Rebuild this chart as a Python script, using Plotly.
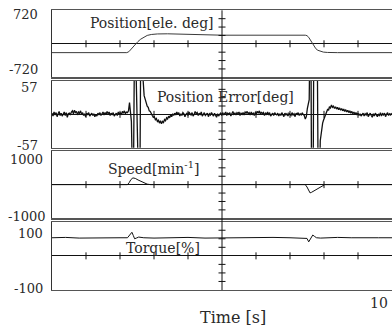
import numpy as np
import plotly.graph_objects as go

# ---------------- data ----------------
# Position [ele. deg]
pos_t = [0, 2.2, 2.26, 2.32, 2.39, 2.46, 2.53, 2.61, 2.70, 2.80, 2.92, 3.1, 3.4, 3.8, 4.3, 5.0,
         7.45, 7.50, 7.55, 7.60, 7.65, 7.70, 7.76, 7.82, 7.90, 7.98, 8.1, 8.4, 10]
pos_v = [-190, -190, -170, -120, -60, 0, 50, 100, 145, 180, 200, 212, 215, 205, 190, 185,
         185, 175, 140, 80, 10, -50, -105, -140, -165, -178, -186, -190, -190]

# Position error [deg] : noisy baseline segments sampled every 0.03 s
err_a_start = 0.0
err_a = [2, -3, 4, -1, 3, -4, 1, 5, -2, 2, -3, 0, 4, -2, 3, -5, 1, 2, -1, 4,
         6, 1, 7, 3, 5, -1, 4, 2, 6, 0, 3, -2, 1, -4, 2, -1, 3, -3, 0, 2,
         -2, 1, -4, 0, -3, 2, -1, 3, -2, 1, 4, -1, 3, 0, 5, 1, 4, -2, 2, -1,
         3, -3, 1, 2, -2, 4, 0, 3, -1, 5, 2, 6, 1, 4]
err_ev1_t = [2.22, 2.25, 2.28, 2.30, 2.32, 2.335, 2.37, 2.395, 2.425, 2.455, 2.545, 2.585, 2.61,
             2.635, 2.68, 2.71, 2.74, 2.77, 2.80, 2.83, 2.86, 2.89, 2.92, 2.95, 2.98, 3.01, 3.04,
             3.07, 3.10, 3.13, 3.16, 3.19, 3.22, 3.25, 3.28, 3.31, 3.34, 3.37, 3.40, 3.43, 3.46,
             3.49, 3.52, 3.55, 3.58]
err_ev1_v = [3, 6, 20, 8, 0, -12, -120, -120, 120, 120, -120, -120, 120,
             120, 45, 32, 26, 19, 14, 12, 6, 5, 0, -2, -5, -4, -9,
             -7, -12, -10, -15, -11, -16, -12, -14, -9, -11, -6, -8, -3, -6,
             -1, -4, 1, -2]
err_b_start = 3.61
err_b = [2, -1, 4, 0, 3, -3, 1, -2, 3, 1, -4, 0, 2, -2, 4, 1, -1, 3, -3, 0,
         5, 1, 3, -2, 2, -1, 4, -3, 1, 3, -2, 0, 2, -4, 1, -1, 3, 0, -3, 2,
         -2, -5, 1, -3, 0, 2, -2, 3, -1, 1, 4, -2, 2, 0, 3, -3, 1, 5, 0, 2,
         -1, 3, 1, 4, -2, 2, 0, 3, -1, 4, 2, 5, 1, 3, -1, 4, 0, 2, -2, 3,
         1, 5, 2, 6, 0, 4, 1, 3, -2, 2, 0, 4, -1, 3, -3, 1, 2, -2, 3, 0,
         -1, 2, -3, 1, -2, 3, 0, -4, 2, -1, 1, -3, 2, 0, -2, 3, -1, 1, -4, 2,
         0, 3, -2, 1, -1, 2, 0]
err_ev2_t = [7.42, 7.45, 7.48, 7.51, 7.54, 7.565, 7.585, 7.615, 7.635, 7.68, 7.70, 7.80, 7.83,
             7.865, 7.89, 7.91, 7.935, 7.96, 7.985, 8.01, 8.035, 8.06, 8.085, 8.11, 8.135, 8.16,
             8.19, 8.22, 8.25, 8.28, 8.31, 8.34, 8.37, 8.40, 8.43, 8.46, 8.49, 8.52, 8.55, 8.58,
             8.61, 8.64, 8.67, 8.70, 8.73, 8.76, 8.79, 8.82, 8.85, 8.88, 8.91, 8.94, 8.97, 9.00,
             9.03, 9.06, 9.09, 9.12]
err_ev2_v = [-2, -8, -4, 10, 16, 25, 130, 130, -130, -130, 130, 130, -130,
             -130, -45, -33, -22, -15, -10, -6, -2, 3, 5, 9, 7, 13,
             11, 16, 12, 14, 10, 13, 9, 12, 8, 11, 7, 10, 6, 9,
             5, 8, 4, 7, 3, 6, 2, 5, 1, 4, 0, 3, -1, 2,
             -2, 1, -3, 0]
err_c_start = 9.15
err_c = [2, -3, 1, -1, 3, -4, 0, 2, -2, -5, 1, -3, 2, -1, -4, 0, -2, 3, -3, 1,
         -1, 2, -4, 0, 3, -2, 1, -1, 2]
err_step = 0.03

# Speed [min^-1]
spd_t = [0, 2.22, 2.27, 2.32, 2.38, 2.45, 2.53, 2.62, 2.70, 2.80, 2.90,
         7.45, 7.50, 7.55, 7.59, 7.63, 7.70, 7.78, 7.86, 7.94, 8.02, 10]
spd_v = [0, 0, 60, 150, 200, 185, 140, 90, 50, 15, 0,
         0, -70, -190, -245, -230, -185, -140, -95, -50, 0, 0]

# Torque [%]
tq_t = [0, 0.4, 0.8, 1.2, 1.6, 2.0, 2.22, 2.27, 2.31, 2.35, 2.39, 2.43, 2.48, 2.55, 2.7,
        3.0, 3.5, 4.0, 4.5, 5.0, 5.5, 6.0, 6.5, 7.0, 7.3, 7.45, 7.5, 7.55, 7.6, 7.67, 7.72,
        7.78, 7.9, 8.1, 8.4, 8.8, 9.2, 9.6, 10]
tq_v = [53, 54, 52, 53, 54, 53, 53, 58, 64, 69, 60, 50, 52, 55, 53,
        52, 53, 54, 52, 53, 52, 53, 54, 53, 52, 53, 51, 41, 48, 61, 57,
        53, 52, 53, 54, 53, 52, 53, 53]

# panel ranges / labels
ranges = [720, 57, 1000, 100]
top_labels = ["720", "57", "1000", "100"]
bot_labels = ["-720", "-57", "-1000", "-100"]
panel_titles = ["Position[ele. deg]", "Position Error[deg]", "Speed[min<sup>-1</sup>]", "Torque[%]"]
x_label = "Time [s]"
x_end_label = "10"

# ---------------- build error series ----------------
def seg(start, vals):
    return [round(start + i * err_step, 4) for i in range(len(vals))]

err_t = seg(err_a_start, err_a) + err_ev1_t + seg(err_b_start, err_b) + err_ev2_t + seg(err_c_start, err_c)
err_v = err_a + err_ev1_v + err_b + err_ev2_v + err_c

# ---------------- layout geometry (pixels) ----------------
W, H = 392, 327
L = 52
panel_px = [(10.3, 77.3), (81.0, 147.7), (151.0, 218.3), (221.7, 290.0)]

def fy(py):
    return (H - py) / H

def fx(px):
    return (px - L) / (W - L)

FONT = "DejaVu Serif"
TXT = "#2a2a2a"
fig = go.Figure()

series = [(pos_t, pos_v, "#3a3a3a", 1.0), (err_t, err_v, "#111", 1.3),
          (spd_t, spd_v, "#111", 1.0), (tq_t, tq_v, "#111", 1.0)]

for i, (tx, vy, col, lw) in enumerate(series):
    xa = "x" if i == 0 else f"x{i+1}"
    ya = "y" if i == 0 else f"y{i+1}"
    fig.add_trace(go.Scatter(x=tx, y=vy, mode="lines", line=dict(color=col, width=lw),
                             xaxis=xa, yaxis=ya, showlegend=False, hoverinfo="skip"))
    # tick marks on zero line
    fig.add_trace(go.Scatter(x=[1, 2, 3, 4, 6, 7, 8, 9], y=[0] * 8, mode="markers",
                             marker=dict(symbol="line-ns", size=5, line=dict(color="#111", width=1)),
                             xaxis=xa, yaxis=ya, showlegend=False, hoverinfo="skip"))
    r = ranges[i]
    yt = [r * k / 4 for k in (-3, -2, -1, 1, 2, 3)]
    fig.add_trace(go.Scatter(x=[5] * len(yt), y=yt, mode="markers",
                             marker=dict(symbol="line-ew", size=5, line=dict(color="#111", width=1)),
                             xaxis=xa, yaxis=ya, showlegend=False, hoverinfo="skip"))

layout = dict(width=W, height=H, margin=dict(l=L, r=0, t=0, b=0),
              paper_bgcolor="white", plot_bgcolor="white", showlegend=False)

for i in range(4):
    top, bot = panel_px[i]
    sx = "" if i == 0 else str(i + 1)
    layout["xaxis" + sx] = dict(domain=[0, 1], range=[0, 10], anchor="y" + sx,
                                showticklabels=False, showgrid=False, zeroline=False,
                                ticks="", showline=True, mirror=True,
                                linecolor="#555", linewidth=1.2, fixedrange=True)
    layout["yaxis" + sx] = dict(domain=[fy(bot), fy(top)], range=[-ranges[i], ranges[i]],
                                anchor="x" + sx, showticklabels=False, showgrid=False,
                                zeroline=True, zerolinecolor="#111", zerolinewidth=1,
                                ticks="", showline=True, mirror=False,
                                linecolor="#333", linewidth=1.2, fixedrange=True)
fig.update_layout(**layout)

# vertical centre axis at t = 5
fig.add_shape(type="line", xref="x", yref="paper", x0=5, x1=5,
              y0=fy(panel_px[3][1]), y1=fy(panel_px[0][0]), line=dict(color="#111", width=1))

ann = []
# y extreme labels (pixel positions)
top_lab_px = [(40, 15.0), (40, 88.0), (45, 159.5), (45, 233.0)]
bot_lab_px = [(40, 70.0), (40, 145.5), (47, 216.5), (45, 288.0)]
for i in range(4):
    for txt, (px, py) in ((top_labels[i], top_lab_px[i]), (bot_labels[i], bot_lab_px[i])):
        ann.append(dict(text=txt, xref="paper", yref="paper", x=fx(px), y=fy(py),
                        xanchor="right", yanchor="middle", showarrow=False,
                        font=dict(family=FONT, size=13, color=TXT)))

# panel titles (left edge pixel, centre pixel)
title_px = [(88, 23.0), (155, 96.7), (106, 168.0), (124, 248.3)]
for i in range(4):
    px, py = title_px[i]
    ann.append(dict(text=panel_titles[i], xref="paper", yref="paper", x=fx(px), y=fy(py),
                    xanchor="left", yanchor="middle", showarrow=False,
                    font=dict(family=FONT, size=14, color=TXT)))

ann.append(dict(text=x_end_label, xref="paper", yref="paper", x=fx(390), y=fy(303),
                xanchor="right", yanchor="middle", showarrow=False,
                font=dict(family=FONT, size=14, color=TXT)))
ann.append(dict(text=x_label, xref="paper", yref="paper", x=fx(233), y=fy(317),
                xanchor="center", yanchor="middle", showarrow=False,
                font=dict(family=FONT, size=16, color=TXT)))
fig.update_layout(annotations=ann)

fig.write_html("out.html", config={"displayModeBar": False, "staticPlot": True},
               post_script="document.body.style.margin='0';document.body.style.padding='0';"
                           "document.documentElement.style.overflow='hidden';")
